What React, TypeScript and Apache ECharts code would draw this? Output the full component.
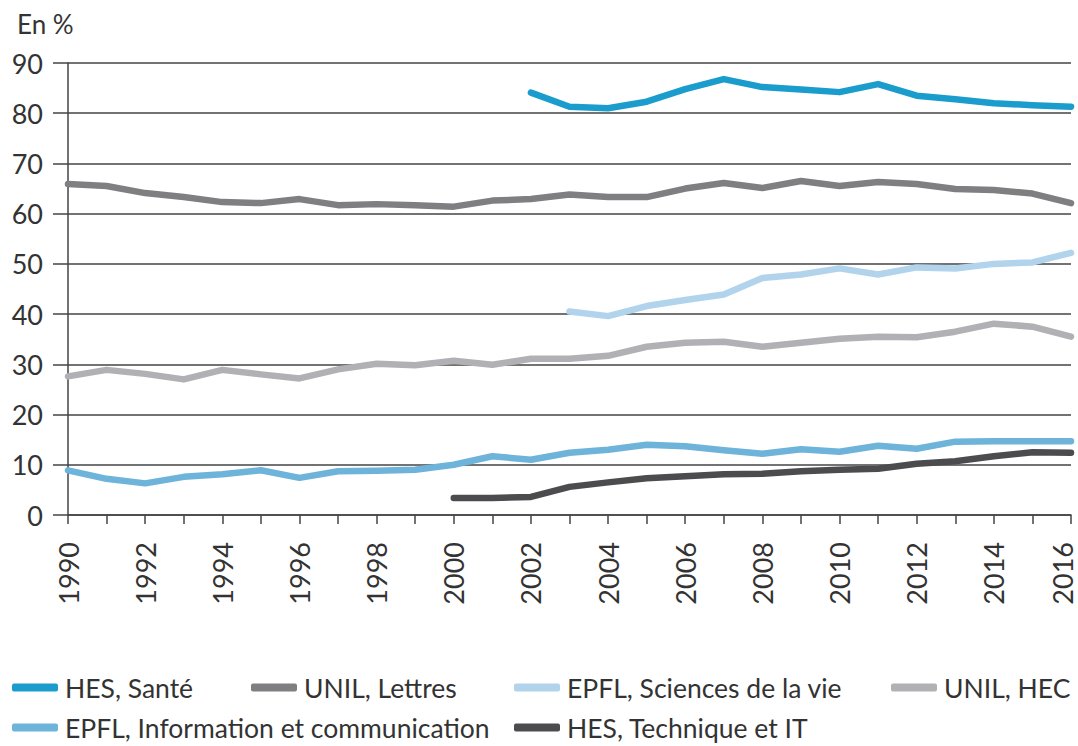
import React, { useEffect, useRef } from "react";
import * as echarts from "echarts";

const years = ["1990","1991","1992","1993","1994","1995","1996","1997","1998","1999","2000","2001","2002","2003","2004","2005","2006","2007","2008","2009","2010","2011","2012","2013","2014","2015","2016"];

const hesSante = [null,null,null,null,null,null,null,null,null,null,null,null,84.1,81.3,81.0,82.3,84.8,86.8,85.2,84.7,84.2,85.8,83.5,82.8,82.0,81.6,81.3];
const unilLettres = [65.9,65.5,64.1,63.3,62.3,62.1,62.9,61.7,61.9,61.7,61.4,62.6,62.9,63.8,63.3,63.3,65.0,66.1,65.1,66.5,65.5,66.3,65.9,64.9,64.7,64.0,62.1];
const epflSciences = [null,null,null,null,null,null,null,null,null,null,null,null,null,40.5,39.6,41.6,42.8,43.9,47.2,47.9,49.1,47.9,49.3,49.1,50.0,50.3,52.2];
const unilHec = [27.6,28.9,28.1,27.0,28.9,28.0,27.2,29.0,30.1,29.8,30.7,29.9,31.1,31.1,31.7,33.5,34.3,34.5,33.5,34.3,35.1,35.5,35.4,36.5,38.1,37.5,35.5];
const epflInfo = [8.9,7.2,6.3,7.6,8.1,8.9,7.4,8.7,8.8,9.0,10.0,11.7,11.0,12.4,13.0,14.0,13.7,12.9,12.2,13.1,12.6,13.8,13.2,14.6,14.7,14.7,14.7];
const hesTech = [null,null,null,null,null,null,null,null,null,null,3.4,3.4,3.6,5.6,6.5,7.3,7.7,8.1,8.2,8.7,9.0,9.2,10.2,10.7,11.7,12.5,12.4];

const seriesNames = ["HES, Santé","UNIL, Lettres","EPFL, Sciences de la vie","UNIL, HEC","EPFL, Information et communication","HES, Technique et IT"];
const seriesColors = ["#1a9dcc","#7f7f81","#b2d3ec","#b1b1b5","#6db3da","#4c4c4e"];
const seriesData = [hesSante, unilLettres, epflSciences, unilHec, epflInfo, hesTech];

const FONT = "Lato, 'Noto Sans', sans-serif";
const TEXT = "#333333";

export default function App() {
  const ref = useRef<HTMLDivElement>(null);
  useEffect(() => {
    if (!ref.current) return;
    const chart = echarts.init(ref.current, undefined, { renderer: "svg" });
    const legendPos = [
      { left: 12, top: 674 },
      { left: 251, top: 674 },
      { left: 514, top: 674 },
      { left: 891, top: 674 },
      { left: 12, top: 714 },
      { left: 514, top: 714 },
    ];
    const lastYear = years[years.length - 1];
    chart.setOption({
      animation: false,
      backgroundColor: "#ffffff",
      title: {
        text: "En %",
        left: 12,
        top: 6,
        textStyle: { fontFamily: FONT, fontSize: 26, fontWeight: "normal", color: TEXT },
      },
      legend: seriesNames.map((n, i) => ({
        data: [n],
        left: legendPos[i].left,
        top: legendPos[i].top,
        icon: "roundRect",
        itemWidth: 46,
        itemHeight: 8,
        itemGap: 10,
        padding: 0,
        selectedMode: false,
        textStyle: { fontFamily: FONT, fontSize: 26.5, color: TEXT, padding: [0, 0, 0, 2] },
      })),
      grid: { left: 68, right: 7, top: 63, bottom: 231, containLabel: false },
      xAxis: {
        type: "category",
        data: years,
        boundaryGap: false,
        axisLine: { show: true, lineStyle: { color: "#444", width: 1.5 } },
        axisTick: { show: true, length: 9, interval: 0, lineStyle: { color: "#444", width: 1.5 } },
        axisLabel: {
          interval: 1,
          rotate: 90,
          margin: 27,
          fontFamily: FONT,
          fontSize: 27,
          color: TEXT,
          formatter: (v: string) => (v === lastYear ? "{last|" + v + "}" : v),
          rich: {
            last: { fontFamily: FONT, fontSize: 27, color: TEXT, padding: [0, 0, 18, 0] },
          },
        },
        splitLine: { show: false },
      },
      yAxis: {
        type: "value",
        min: 0,
        max: 90,
        interval: 10,
        axisLine: { show: true, lineStyle: { color: "#444", width: 1.5 } },
        axisTick: { show: true, length: 15, lineStyle: { color: "#444", width: 1.5 } },
        axisLabel: { margin: 25, fontFamily: FONT, fontSize: 27, color: TEXT },
        splitLine: { show: true, lineStyle: { color: "#444", width: 1.5 } },
      },
      series: seriesNames.map((n, i) => ({
        name: n,
        type: "line",
        data: seriesData[i],
        symbol: "none",
        connectNulls: false,
        color: seriesColors[i],
        lineStyle: { width: 6.5, color: seriesColors[i], cap: "round", join: "round" },
        itemStyle: { color: seriesColors[i] },
      })),
    });
    return () => chart.dispose();
  }, []);
  return <div ref={ref} style={{ width: 1078, height: 746, position: "absolute", left: 0, top: 0 }} />;
}
